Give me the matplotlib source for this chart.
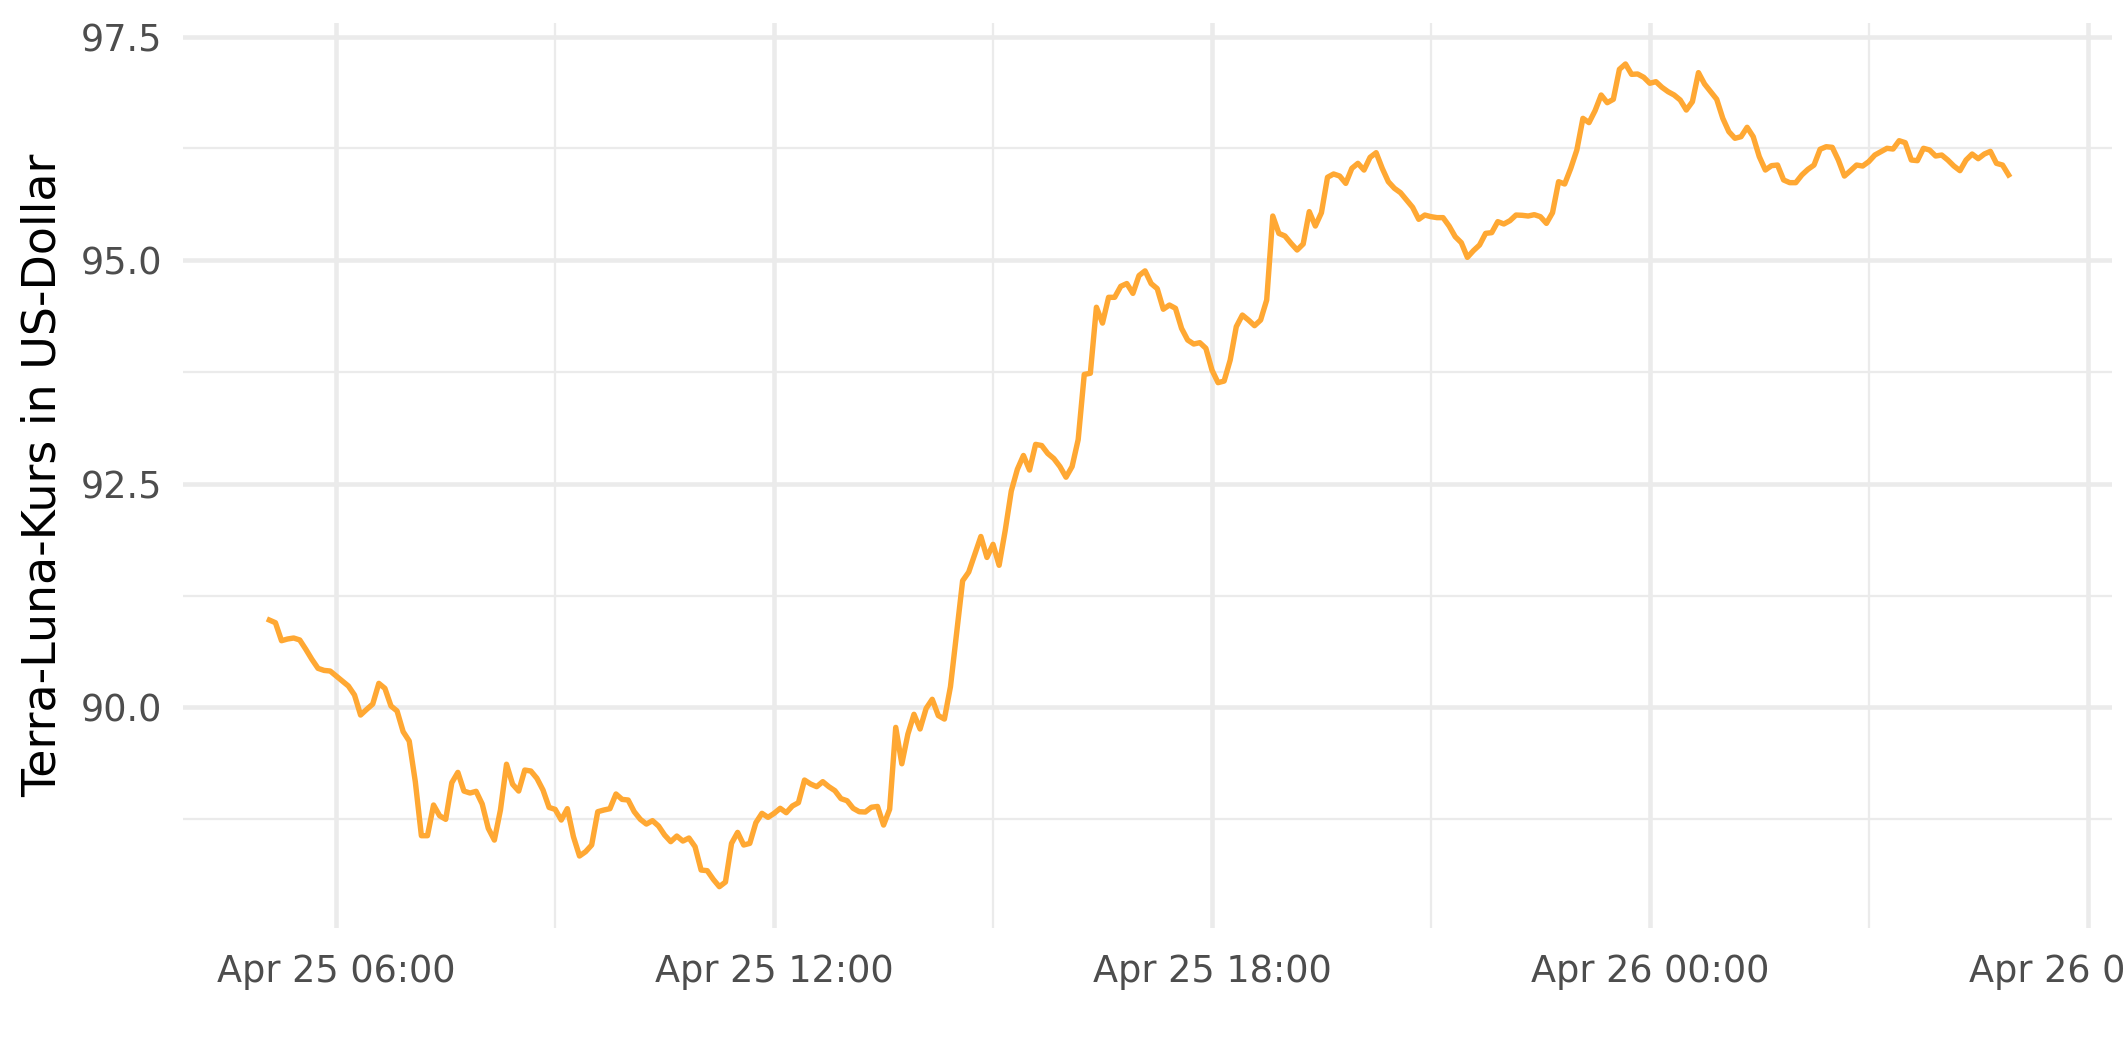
import numpy as np
import pandas as pd
import matplotlib
matplotlib.use("Agg")
import matplotlib.pyplot as plt
import matplotlib.dates as mdates
from matplotlib.ticker import MultipleLocator

# Terra-Luna Kurs, 5-Minuten-Werte ab 25.04.2022 05:05
start = "2022-04-25 05:05"
price = [
    # 05:05 - 09:10
    90.977, 90.947, 90.746, 90.765, 90.776, 90.754, 90.649, 90.537, 90.437, 90.414,
    90.407, 90.351, 90.295, 90.239, 90.139, 89.915, 89.978, 90.038, 90.269, 90.213,
    90.016, 89.960, 89.729, 89.624, 89.170, 88.566, 88.566, 88.909, 88.789, 88.749,
    89.158, 89.274, 89.065, 89.043, 89.062, 88.920, 88.648, 88.517, 88.853, 89.365,
    89.141, 89.065, 89.300, 89.289, 89.207, 89.076, 88.882, 88.860, 88.741,
    # bis ca. 13:15
    88.868, 88.555, 88.339, 88.387, 88.462, 88.834, 88.853, 88.868, 89.032, 88.972,
    88.965, 88.834, 88.749, 88.696, 88.734, 88.674, 88.573, 88.499, 88.562, 88.506,
    88.540, 88.443, 88.182, 88.175, 88.078, 87.996, 88.048, 88.480, 88.603, 88.462,
    88.480, 88.711, 88.816, 88.771, 88.816, 88.872, 88.823, 88.898, 88.935, 89.188,
    89.144, 89.114, 89.170, 89.114, 89.069, 88.980, 88.957, 88.872, 88.834,
    # bis ca. 17:25
    88.831, 88.884, 88.893, 88.685, 88.862, 89.777, 89.370, 89.702, 89.923, 89.759,
    89.989, 90.091, 89.909, 89.870, 90.232, 90.829, 91.416, 91.513, 91.712, 91.911,
    91.677, 91.823, 91.589, 91.977, 92.419, 92.662, 92.817, 92.654, 92.941, 92.928,
    92.839, 92.782, 92.693, 92.574, 92.693, 92.994, 93.723, 93.736, 94.474, 94.297,
    94.585, 94.585, 94.708, 94.739, 94.629, 94.828, 94.881, 94.739, 94.682, 94.452,
    # bis ca. 21:30
    94.499, 94.462, 94.238, 94.108, 94.063, 94.078, 94.015, 93.772, 93.631, 93.649,
    93.884, 94.257, 94.387, 94.331, 94.268, 94.331, 94.555, 95.494, 95.300, 95.271,
    95.189, 95.114, 95.181, 95.543, 95.382, 95.531, 95.927, 95.964, 95.941, 95.859,
    96.027, 96.083, 96.008, 96.150, 96.202, 96.027, 95.878, 95.804, 95.755, 95.673,
    95.591, 95.457, 95.505, 95.487, 95.476, 95.476, 95.382, 95.263, 95.196,
    # bis ca. 01:35
    95.032, 95.107, 95.170, 95.300, 95.308, 95.431, 95.405, 95.442, 95.505, 95.502,
    95.494, 95.509, 95.487, 95.412, 95.531, 95.878, 95.852, 96.027, 96.232, 96.586,
    96.538, 96.672, 96.847, 96.761, 96.799, 97.134, 97.194, 97.078, 97.082, 97.045,
    96.978, 96.996, 96.933, 96.884, 96.847, 96.791, 96.679, 96.772, 97.097, 96.970,
    96.884, 96.799, 96.586, 96.437, 96.363, 96.381, 96.486, 96.381, 96.158,
    # bis ca. 05:00
    96.008, 96.057, 96.064, 95.897, 95.867, 95.867, 95.953, 96.016, 96.064, 96.240,
    96.269, 96.262, 96.120, 95.941, 96.001, 96.064, 96.053, 96.102, 96.176, 96.213,
    96.251, 96.243, 96.336, 96.314, 96.120, 96.113, 96.251, 96.232, 96.165, 96.176,
    96.120, 96.053, 96.001, 96.120, 96.187, 96.135, 96.187, 96.217, 96.083, 96.064,
    95.953,
]
zeit = pd.date_range(start, periods=len(price), freq="5min")

y_ticks = [90.0, 92.5, 95.0, 97.5]
ylabel = "Terra-Luna-Kurs in US-Dollar"

# figure like ggplot theme_minimal, 300 dpi
fig = plt.figure(figsize=(2125 / 300, 1062 / 300), dpi=300)
ax = fig.add_axes([183 / 2125, 1 - 928 / 1062, (2112 - 183) / 2125, (928 - 23) / 1062])

ax.plot(zeit, price, color="#FFA833", lw=1.3, solid_joinstyle="round", zorder=3)

ax.set_xlim(pd.Timestamp("2022-04-25 03:54"), pd.Timestamp("2022-04-26 06:20"))
ax.set_ylim(87.534, 97.652)

ax.xaxis.set_major_locator(mdates.HourLocator(byhour=[0, 6, 12, 18]))
ax.xaxis.set_minor_locator(mdates.HourLocator(byhour=[3, 9, 15, 21]))
ax.xaxis.set_major_formatter(mdates.DateFormatter("%b %d %H:%M"))
ax.set_yticks(y_ticks)
ax.yaxis.set_minor_locator(MultipleLocator(1.25))
ax.yaxis.set_major_formatter(plt.FuncFormatter(lambda v, p: f"{v:.1f}"))

ax.grid(which="major", color="#EBEBEB", lw=1.1)
ax.grid(which="minor", color="#EBEBEB", lw=0.55)
ax.set_axisbelow(True)
for s in ax.spines.values():
    s.set_visible(False)
ax.tick_params(which="both", length=0)
ax.tick_params(axis="x", labelsize=8.8, labelcolor="#4D4D4D", pad=6)
ax.tick_params(axis="y", labelsize=8.8, labelcolor="#4D4D4D", pad=5)

ax.set_ylabel(ylabel, fontsize=11, color="black")
ax.yaxis.set_label_coords(-0.061, 0.5)

fig.savefig("out.png", dpi=300)
